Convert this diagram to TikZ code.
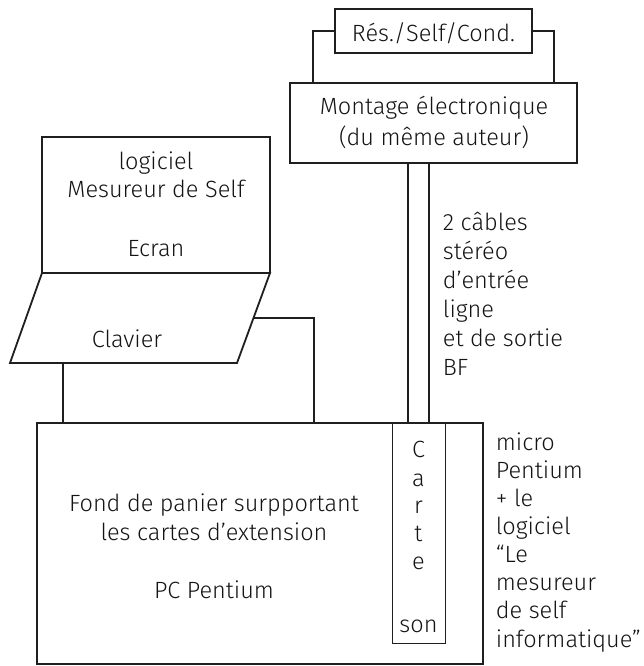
\documentclass[tikz,border=0pt]{standalone}
\usepackage{fontspec}
\setmainfont{Fira Sans Light}
\begin{document}
\begin{tikzpicture}[x=1pt,y=-1pt,
  line width=1.8pt, color={black!88},
  txt/.style={font=\fontsize{23.5}{29}\selectfont, inner sep=0pt, text=black!92, anchor=base},
  lt/.style={txt, anchor=base west},
  frame/.style={draw, inner sep=0pt},
  thin/.style={line width=1pt}]
\useasboundingbox (0,0) rectangle (644,666);
% boxes
\node[frame, minimum width=197pt, minimum height=44pt] (rsc) at (433.5,31) {};
\node[txt] (rsct) at (433.5,42) {Rés./Self/Cond.};
\node[frame, minimum width=287pt, minimum height=80pt] (mont) at (433.5,123) {};
\node[txt] (mont1) at (434,115) {Montage électronique};
\node[txt] (mont2) at (434,145) {(du même auteur)};
\node[frame, minimum width=228pt, minimum height=136pt] (ecran) at (156,205) {};
\node[txt] (ec1) at (156,169) {logiciel};
\node[txt] (ec2) at (156,197) {Mesureur de Self};
\node[txt] (ec3) at (156,256) {Ecran};
% keyboard
\coordinate (k1) at (42,273);
\coordinate (k2) at (270,273);
\coordinate (k3) at (237,363);
\coordinate (k4) at (10,363);
\draw[line join=miter] (k1) -- (k2) -- (k3) -- (k4) -- cycle;
\node[txt] (clavier) at (127,347) {Clavier};
% PC
\node[frame, minimum width=446pt, minimum height=241pt] (pc) at (260,543.5) {};
\node[txt] (pc1) at (214,511) {Fond de panier surpportant};
\node[txt] (pc2) at (214,540) {les cartes d’extension};
\node[txt] (pc3) at (214,598) {PC Pentium};
\node[frame, thin, minimum width=53pt, minimum height=220pt] (carte) at (418.5,533) {};
\node[txt] (c1) at (418.5,457) {C};
\node[txt] (c2) at (418.5,486) {a};
\node[txt] (c3) at (418.5,513) {r};
\node[txt] (c4) at (418.5,541) {t};
\node[txt] (c5) at (418.5,569) {e};
\node[txt] (c6) at (418.5,632) {son};
% connectors
\coordinate (kw) at (253.5,318);
\draw (rsc.west) -- (313,31) -- (313,83);
\draw (rsc.east) -- (554,31) -- (554,83);
\draw (408,163) -- (408,423);
\draw (429,163) -- (429,423);
\draw (63,363) -- (63,423);
\draw (kw) -- (314,318) -- (314,423);
% labels
\node[lt] (l1) at (442,230) {2 câbles};
\node[lt] (l2) at (442,259) {stéréo};
\node[lt] (l3) at (442,288) {d’entrée};
\node[lt] (l4) at (442,317) {ligne};
\node[lt] (l5) at (442,346) {et de sortie};
\node[lt] (l6) at (442,375) {BF};
\node[lt] (m1) at (495,450) {micro};
\node[lt] (m2) at (495,478) {Pentium};
\node[lt] (m3) at (495,506) {+ le};
\node[lt] (m4) at (495,534) {logiciel};
\node[lt] (m5) at (495,562) {“Le};
\node[lt] (m6) at (495,590) {mesureur};
\node[lt] (m7) at (495,618) {de self};
\node[lt] (m8) at (495,647) {informatique”};
\end{tikzpicture}
\end{document}
